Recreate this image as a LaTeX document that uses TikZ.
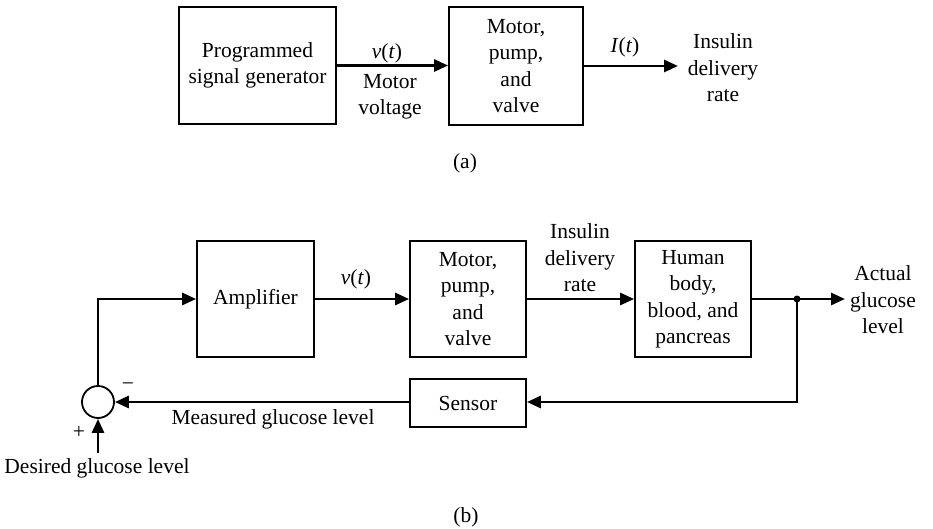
\documentclass[tikz,border=0pt]{standalone}
\usepackage{fontspec}
\setmainfont{Liberation Serif}
\usetikzlibrary{arrows.meta}
\begin{document}
\begin{tikzpicture}[x=1pt,y=-1pt,
  blk/.style={draw,line width=1.8pt,inner sep=0pt,align=center,font=\fontsize{21.5}{26.5}\selectfont},
  lbl/.style={inner sep=0pt,align=center,font=\fontsize{21.5}{26.5}\selectfont},
  conn/.style={line width=2.8pt,-{Triangle[length=14pt,width=12pt]}},
  line/.style={line width=2.8pt}]
\useasboundingbox (0,0) rectangle (933,529);
% (a)
\node[blk,minimum width=157pt,minimum height=117pt] (pg) at (257.5,65.5) {Programmed\\signal generator};
\node[blk,minimum width=134pt,minimum height=118pt] (mpa) at (516,66) {Motor,\\pump,\\and\\valve};
\coordinate (ia) at (678,66);
\draw[conn] (pg.east) -- (pg.east -| mpa.west);
\draw[conn] (mpa.east |- ia) -- (ia);
\node[lbl] (va) at (387,53) {\textit{v}(\textit{t})};
\node[lbl] (mv) at (390,97) {Motor\\voltage};
\node[lbl] (it) at (625,47) {\textit{I}(\textit{t})};
\node[lbl] (idr) at (723,68) {Insulin\\delivery\\rate};
\node[lbl] (capa) at (465,163) {(a)};
% (b)
\node[blk,minimum width=117pt,minimum height=116pt] (amp) at (255.5,299) {Amplifier};
\node[blk,minimum width=116pt,minimum height=116pt] (mpb) at (468,299) {Motor,\\pump,\\and\\valve};
\node[blk,minimum width=116pt,minimum height=116pt] (hb) at (693,299) {Human\\body,\\blood, and\\pancreas};
\node[blk,minimum width=116pt,minimum height=48pt] (sen) at (468,403) {Sensor};
\node[draw,circle,line width=1.8pt,minimum size=32pt,inner sep=0pt] (sum) at (98,402) {};
\coordinate (jn) at (797,299);
\coordinate (out) at (845,299);
\coordinate (corner) at (98,299);
\coordinate (fbc) at (797,402);
\coordinate (din) at (98,453);
\draw[conn] (sum.north) -- (corner) -- (amp.west);
\draw[conn] (amp.east) -- (mpb.west);
\draw[conn] (mpb.east) -- (hb.west);
\draw[conn] (hb.east) -- (out);
\draw[conn] (jn) -- (fbc) -- (sen.east |- fbc);
\draw[conn] (sen.west |- sum.east) -- (sum.east);
\draw[conn] (din) -- (sum.south);
\fill (jn) circle (3.5pt);
\node[lbl] (vb) at (356,279) {\textit{v}(\textit{t})};
\node[lbl] (idrb) at (580,258) {Insulin\\delivery\\rate};
\node[lbl] (agl) at (883,300) {Actual\\glucose\\level};
\node[lbl] (mgl) at (273,419) {Measured glucose level};
\node[lbl] (dgl) at (97,468) {Desired glucose level};
\node[lbl] (minus) at (128,387) {\textminus};
\node[lbl] (plus) at (79,432) {+};
\node[lbl] (capb) at (466,517) {(b)};
\end{tikzpicture}
\end{document}
